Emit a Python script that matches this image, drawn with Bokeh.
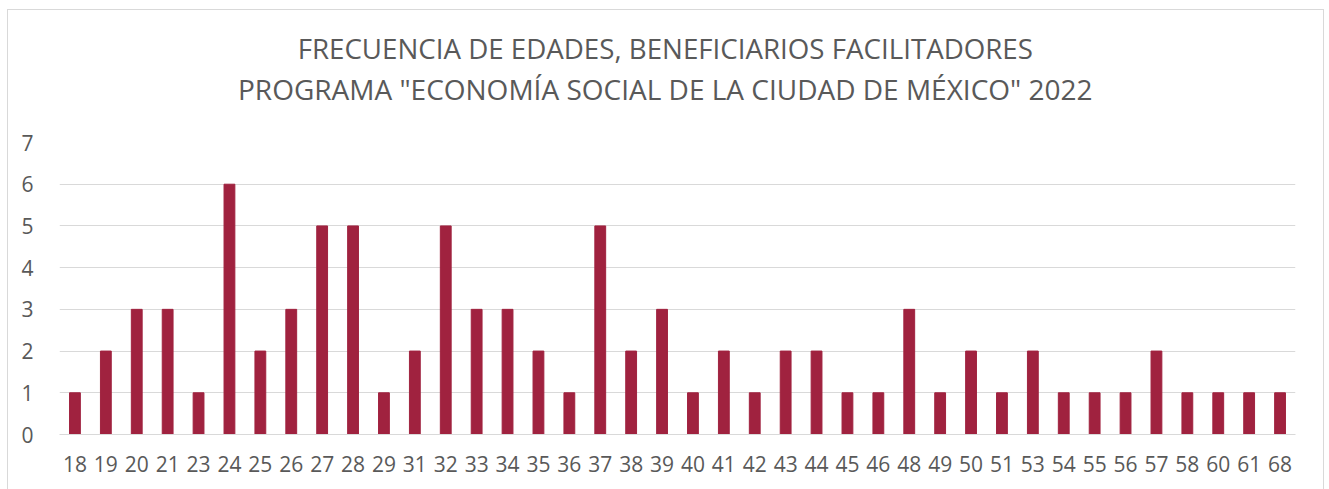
from bokeh.plotting import figure
from bokeh.layouts import column
from bokeh.models import ColumnDataSource, FactorRange, Range1d, SingleIntervalTicker
from bokeh.core.properties import value
from bokeh.embed import file_html
from bokeh.resources import INLINE

edades = ["18", "19", "20", "21", "23", "24", "25", "26", "27", "28", "29", "31", "32", "33",
          "34", "35", "36", "37", "38", "39", "40", "41", "42", "43", "44", "45", "46", "48",
          "49", "50", "51", "53", "54", "55", "56", "57", "58", "60", "61", "68"]
frecuencia = [1, 2, 3, 3, 1, 6, 2, 3, 5, 5, 1, 2, 5, 3,
              3, 2, 1, 5, 2, 3, 1, 2, 1, 2, 2, 1, 1, 3,
              1, 2, 1, 2, 1, 1, 1, 2, 1, 1, 1, 1]
titulo1 = "FRECUENCIA DE EDADES, BENEFICIARIOS FACILITADORES"
titulo2 = 'PROGRAMA "ECONOMÍA SOCIAL DE LA CIUDAD DE MÉXICO" 2022'

FONT = "Open Sans"
GRAY = "#595959"
W = 1315
TH = 117

# title panel
t = figure(width=W, height=TH, output_backend="svg", toolbar_location=None,
           x_range=Range1d(0, W), y_range=Range1d(0, TH),
           x_axis_type=None, y_axis_type=None, min_border=0)
t.outline_line_color = None
t.xgrid.grid_line_color = None
t.ygrid.grid_line_color = None
t.text(x=[644.5], y=[TH - 37], text=[titulo1], text_align="center", text_baseline="middle",
       text_font=value(FONT), text_font_size="27.7px", text_color=GRAY)
t.text(x=[644.5], y=[TH - 78], text=[titulo2], text_align="center", text_baseline="middle",
       text_font=value(FONT), text_font_size="28px", text_color=GRAY)

source = ColumnDataSource(data=dict(edad=edades, freq=frecuencia))

p = figure(width=W, height=480 - TH, output_backend="svg", toolbar_location=None,
           x_range=FactorRange(factors=edades), y_range=Range1d(0, 7),
           min_border_left=51, min_border_right=28, min_border_bottom=56, min_border_top=15)

p.vbar(x="edad", top="freq", width=0.35, source=source, color="#A0223F")

p.outline_line_color = None
p.xgrid.grid_line_color = None
p.ygrid.grid_line_color = "#D9D9D9"
p.ygrid.grid_line_width = 1

p.yaxis.ticker = SingleIntervalTicker(interval=1)
p.yaxis.axis_line_color = None
p.yaxis.major_tick_line_color = None
p.yaxis.minor_tick_line_color = None
p.yaxis.major_tick_out = 0
p.yaxis.major_tick_in = 0
p.yaxis.major_label_standoff = 22
p.yaxis.major_label_text_font = FONT
p.yaxis.major_label_text_font_size = "21px"
p.yaxis.major_label_text_color = GRAY

p.xaxis.axis_line_color = "#D9D9D9"
p.xaxis.major_tick_line_color = None
p.xaxis.minor_tick_line_color = None
p.xaxis.major_tick_out = 0
p.xaxis.major_tick_in = 0
p.xaxis.major_label_standoff = 21
p.xaxis.major_label_text_font = FONT
p.xaxis.major_label_text_font_size = "21px"
p.xaxis.major_label_text_color = GRAY

layout = column(t, p, spacing=0)
layout.styles = {"border": "1px solid #D9D9D9", "margin-left": "7px", "margin-top": "9px"}

open("out.html", "w").write(file_html(layout, INLINE))
